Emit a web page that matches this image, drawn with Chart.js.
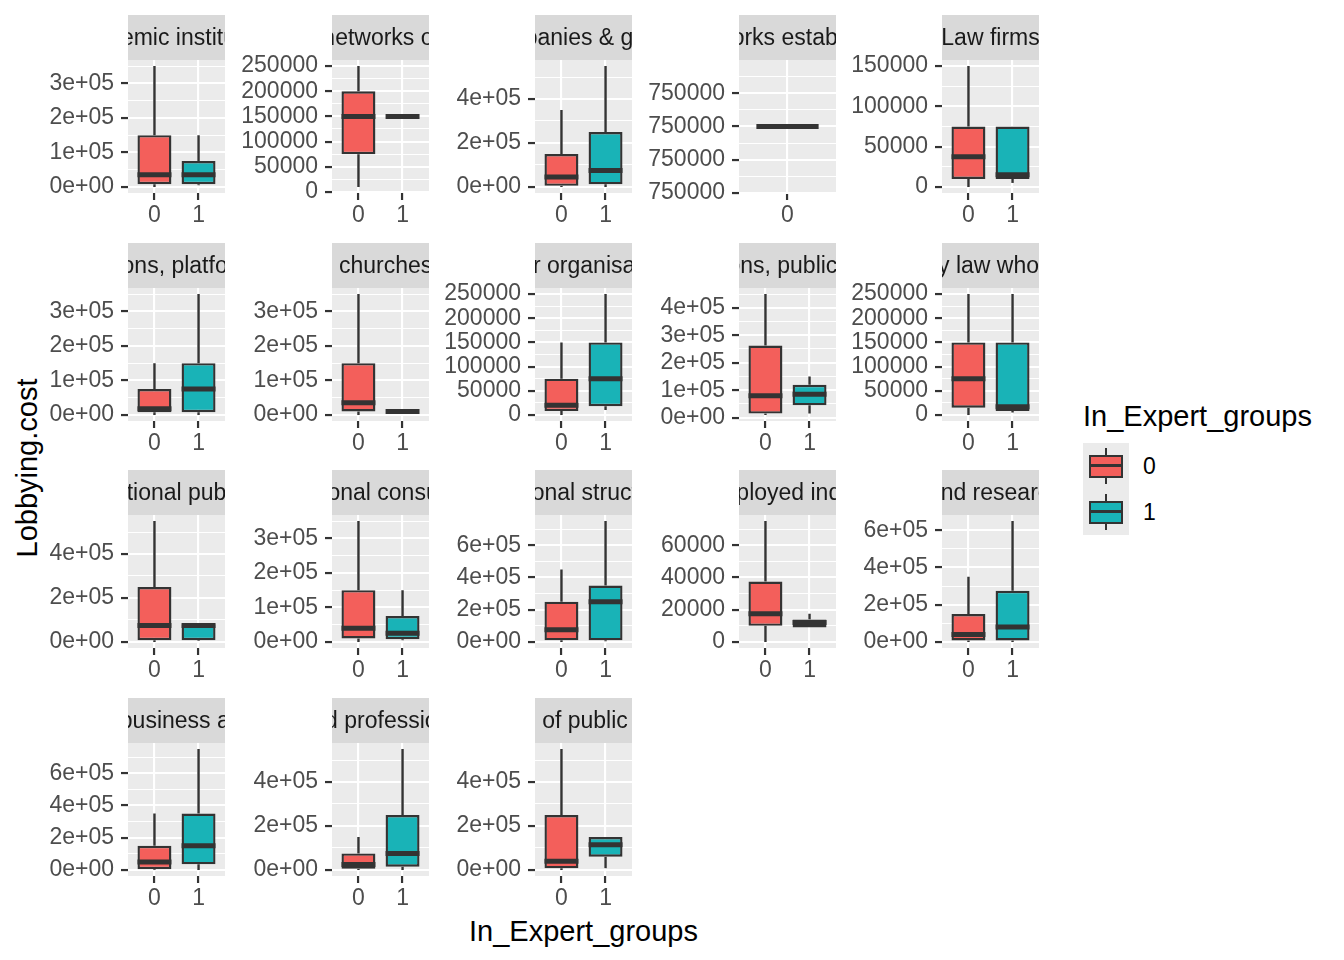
<!DOCTYPE html>
<html>
<head>
<meta charset="utf-8">
<script src="https://cdn.jsdelivr.net/npm/chart.js@4.4.1/dist/chart.umd.min.js"></script>
<style>
  body { margin: 0; background: #ffffff; }
  #wrap { position: relative; width: 1344px; height: 960px; overflow: hidden;
          font-family: "Liberation Sans", Arial, sans-serif; }
  #wrap canvas { position: absolute; }
  .title { position: absolute; font-size: 29px; line-height: 30px; color: #000; white-space: nowrap; }
  .key { position: absolute; width: 46px; height: 46px; background: #EBEBEB; }
  .key .wh { position: absolute; left: 22px; width: 2.4px; top: 4.6px; height: 36.8px; background: #333333; }
  .key .bx { position: absolute; left: 5.75px; width: 34.5px; top: 11.5px; height: 23px;
             box-sizing: border-box; border: 2.4px solid #333333; }
  .key .md { position: absolute; left: 0; right: 0; top: 7.9px; height: 2.8px; background: #333333; }
  .klab { position: absolute; font-size: 23px; line-height: 30px; color: #000; }
</style>
</head>
<body>
<div id="wrap">
  <div class="title" style="left:128px; width:911px; top:916px; text-align:center;">In_Expert_groups</div>
  <div class="title" style="left:-173px; width:400px; top:453px; text-align:center; transform:rotate(-90deg);">Lobbying.cost</div>
  <div class="title" style="left:1083px; top:401px;">In_Expert_groups</div>
  <div class="key" style="left:1083px; top:443px;"><div class="wh"></div><div class="bx" style="background:#F35F5B"><div class="md"></div></div></div>
  <div class="key" style="left:1083px; top:489px;"><div class="wh"></div><div class="bx" style="background:#19B3B7"><div class="md"></div></div></div>
  <div class="klab" style="left:1143px; top:451px;">0</div>
  <div class="klab" style="left:1143px; top:497px;">1</div>
</div>
<script>
// facet titles (full names, clipped by the strip like in ggplot)
const facetNames = [
  "Academic institutions",
  "Associations and networks of public authorities",
  "Companies & groups",
  "Entities, offices or networks established by third countries",
  "Law firms",
  "Non-governmental organisations, platforms and networks and similar",
  "Organisations representing churches and religious communities",
  "Other organisations",
  "Other organisations, public or mixed entities",
  "Other public or mixed entities, created by law whose purpose is to act in the public interest",
  "Other sub-national public authorities",
  "Professional consultancies",
  "Regional structures",
  "Self-employed individuals",
  "Think tanks and research institutions",
  "Trade and business associations",
  "Trade unions and professional associations",
  "Transnational associations and networks of public regional or other sub-national authorities"
];

const facetGroups = [
  ["0","1"], ["0","1"], ["0","1"], ["0"], ["0","1"],
  ["0","1"], ["0","1"], ["0","1"], ["0","1"], ["0","1"],
  ["0","1"], ["0","1"], ["0","1"], ["0","1"], ["0","1"],
  ["0","1"], ["0","1"], ["0","1"]
];

// Lobbying.cost box statistics per facet, one entry per group
const whiskerLow = [
  [0, 5000], [10000, 150000], [0, 0], [750000], [0, 5000],
  [0, 0], [0, 10000], [0, 10000], [10000, 15000], [0, 5000],
  [0, 5000], [0, 5000], [0, 5000], [0, 9000], [0, 0],
  [0, 0], [0, 0], [0, 8000]
];
const boxLow = [
  [8000, 8000], [75000, 150000], [5000, 12000], [750000], [10000, 10000],
  [8000, 8000], [10000, 10000], [8000, 18000], [15000, 45000], [15000, 8000],
  [8000, 8000], [10000, 8000], [10000, 10000], [10000, 9000], [8000, 8000],
  [5000, 35000], [5000, 15000], [7500, 60000]
];
const medians = [
  [35000, 35000], [150000, 150000], [45000, 75000], [750000], [37500, 15000],
  [18000, 75000], [35000, 10000], [20000, 75000], [80000, 85000], [75000, 17000],
  [75000, 75000], [40000, 25000], [75000, 250000], [17500, 12000], [40000, 80000],
  [50000, 150000], [25000, 75000], [40000, 115000]
];
const boxHigh = [
  [150000, 75000], [200000, 150000], [150000, 250000], [750000], [75000, 75000],
  [75000, 150000], [150000, 10000], [75000, 150000], [262500, 120000], [150000, 150000],
  [250000, 80000], [150000, 75000], [250000, 350000], [37500, 14000], [150000, 275000],
  [150000, 350000], [75000, 250000], [250000, 150000]
];
const whiskerHigh = [
  [350000, 150000], [250000, 150000], [350000, 550000], [750000], [150000, 75000],
  [150000, 350000], [350000, 10000], [150000, 250000], [450000, 150000], [250000, 250000],
  [550000, 80000], [350000, 150000], [450000, 750000], [75000, 17500], [350000, 650000],
  [350000, 750000], [150000, 550000], [550000, 150000]
];

// y axis breaks and their labels per facet
const yTickValues = [
  [0, 1e5, 2e5, 3e5], [0, 50000, 100000, 150000, 200000, 250000], [0, 2e5, 4e5],
  [749999.5, 749999.75, 750000, 750000.25], [0, 50000, 100000, 150000],
  [0, 1e5, 2e5, 3e5], [0, 1e5, 2e5, 3e5], [0, 50000, 100000, 150000, 200000, 250000],
  [0, 1e5, 2e5, 3e5, 4e5], [0, 50000, 100000, 150000, 200000, 250000],
  [0, 2e5, 4e5], [0, 1e5, 2e5, 3e5], [0, 2e5, 4e5, 6e5], [0, 20000, 40000, 60000],
  [0, 2e5, 4e5, 6e5], [0, 2e5, 4e5, 6e5], [0, 2e5, 4e5], [0, 2e5, 4e5]
];
const yTickLabels = [
  ["0e+00", "1e+05", "2e+05", "3e+05"], ["0", "50000", "100000", "150000", "200000", "250000"],
  ["0e+00", "2e+05", "4e+05"], ["750000", "750000", "750000", "750000"],
  ["0", "50000", "100000", "150000"],
  ["0e+00", "1e+05", "2e+05", "3e+05"], ["0e+00", "1e+05", "2e+05", "3e+05"],
  ["0", "50000", "100000", "150000", "200000", "250000"],
  ["0e+00", "1e+05", "2e+05", "3e+05", "4e+05"], ["0", "50000", "100000", "150000", "200000", "250000"],
  ["0e+00", "2e+05", "4e+05"], ["0e+00", "1e+05", "2e+05", "3e+05"],
  ["0e+00", "2e+05", "4e+05", "6e+05"], ["0", "20000", "40000", "60000"],
  ["0e+00", "2e+05", "4e+05", "6e+05"], ["0e+00", "2e+05", "4e+05", "6e+05"],
  ["0e+00", "2e+05", "4e+05"], ["0e+00", "2e+05", "4e+05"]
];

const groupColors = { "0": "#F35F5B", "1": "#19B3B7" };

// layout of the facet grid
const NCOL = 5;
const PLOT_LEFT0 = 128, COL_STEP = 203.5;
const STRIP_TOP0 = 15, ROW_STEP = 227.7;
const STRIP_H = 45, PLOT_W = 97, PLOT_H = 133;
const AXIS_W = 106, AXIS_H = 40;
const BOX_WIDTH = 0.77; // in x units
const LINE_W = 2.4;
const FONT = '"Liberation Sans", Arial, sans-serif';

const boxplotPlugin = {
  id: 'boxplot',
  beforeDraw(chart) {
    const { ctx, chartArea: a } = chart;
    ctx.save();
    ctx.fillStyle = '#EBEBEB';
    ctx.fillRect(a.left, a.top, a.right - a.left, a.bottom - a.top);
    ctx.restore();
  },
  beforeDatasetsDraw(chart, args, opts) {
    // whiskers
    const f = opts.facet;
    const { ctx } = chart;
    const y = chart.scales.y;
    const meta = chart.getDatasetMeta(0);
    ctx.save();
    ctx.strokeStyle = '#333333';
    ctx.lineWidth = LINE_W;
    meta.data.forEach((bar, i) => {
      ctx.beginPath();
      ctx.moveTo(bar.x, y.getPixelForValue(boxHigh[f][i]));
      ctx.lineTo(bar.x, y.getPixelForValue(whiskerHigh[f][i]));
      ctx.moveTo(bar.x, y.getPixelForValue(boxLow[f][i]));
      ctx.lineTo(bar.x, y.getPixelForValue(whiskerLow[f][i]));
      ctx.stroke();
    });
    ctx.restore();
  },
  afterDatasetsDraw(chart, args, opts) {
    // medians
    const f = opts.facet;
    const { ctx } = chart;
    const y = chart.scales.y;
    const meta = chart.getDatasetMeta(0);
    ctx.save();
    ctx.strokeStyle = '#333333';
    ctx.lineWidth = 5;
    meta.data.forEach((bar, i) => {
      const py = y.getPixelForValue(medians[f][i]);
      ctx.beginPath();
      ctx.moveTo(bar.x - bar.width / 2, py);
      ctx.lineTo(bar.x + bar.width / 2, py);
      ctx.stroke();
    });
    ctx.restore();
  },
  afterDraw(chart, args, opts) {
    // facet strip with the clipped title
    const { ctx, chartArea: a } = chart;
    ctx.save();
    ctx.beginPath();
    ctx.rect(a.left, 0, a.right - a.left, a.top);
    ctx.clip();
    ctx.fillStyle = '#D9D9D9';
    ctx.fillRect(a.left, 0, a.right - a.left, a.top);
    ctx.fillStyle = '#1A1A1A';
    ctx.font = '23px ' + FONT;
    ctx.textAlign = 'center';
    ctx.textBaseline = 'middle';
    ctx.fillText(facetNames[opts.facet], (a.left + a.right) / 2, a.top / 2 + 1);
    ctx.restore();
  }
};

const wrap = document.getElementById('wrap');

facetNames.forEach((name, f) => {
  const col = f % NCOL, row = Math.floor(f / NCOL);
  const canvas = document.createElement('canvas');
  canvas.width = AXIS_W + PLOT_W;
  canvas.height = STRIP_H + PLOT_H + AXIS_H;
  canvas.style.left = (PLOT_LEFT0 + col * COL_STEP - AXIS_W) + 'px';
  canvas.style.top = (STRIP_TOP0 + row * ROW_STEP) + 'px';
  wrap.appendChild(canvas);

  const groups = facetGroups[f];
  const lo = Math.min(...whiskerLow[f]), hi = Math.max(...whiskerHigh[f]);
  const pad = hi > lo ? (hi - lo) * 0.05 : 0.5;
  const majors = yTickValues[f];
  const labelOf = new Map(majors.map((v, i) => [v, yTickLabels[f][i]]));

  new Chart(canvas, {
    type: 'bar',
    data: {
      datasets: [{
        data: groups.map((g, i) => ({ x: i + 1, y: [boxLow[f][i], boxHigh[f][i]] })),
        backgroundColor: groups.map(g => groupColors[g]),
        borderColor: '#333333',
        borderWidth: LINE_W,
        borderSkipped: false,
        barPercentage: groups.length === 1 ? BOX_WIDTH / 1.2 : BOX_WIDTH,
        categoryPercentage: 1
      }]
    },
    plugins: [boxplotPlugin],
    options: {
      responsive: false,
      animation: false,
      devicePixelRatio: 1,
      layout: { padding: { top: STRIP_H, left: 0, right: 0, bottom: 0 } },
      plugins: {
        legend: { display: false },
        tooltip: { enabled: false },
        boxplot: { facet: f }
      },
      scales: {
        x: {
          type: 'linear',
          offset: false,
          min: 0.4,
          max: groups.length + 0.6,
          afterBuildTicks: scale => { scale.ticks = groups.map((g, i) => ({ value: i + 1 })); },
          afterFit: scale => { scale.height = AXIS_H; },
          border: { display: false },
          grid: { offset: false, color: '#FFFFFF', lineWidth: 2.1, tickColor: '#333333', tickLength: 7, tickWidth: 2.2 },
          ticks: {
            autoSkip: false, maxRotation: 0, padding: 2,
            color: '#4D4D4D', font: { family: FONT, size: 23 },
            callback: (v, i) => groups[i]
          }
        },
        y: {
          type: 'linear',
          bounds: 'data',
          min: lo - pad,
          max: hi + pad,
          afterBuildTicks: scale => {
            const step = majors[1] - majors[0];
            const vals = majors.map(v => ({ value: v, minor: false }));
            for (let v = majors[0] - step / 2; v <= scale.max; v += step) {
              if (v >= scale.min) vals.push({ value: v, minor: true });
            }
            vals.sort((a, b) => a.value - b.value);
            scale.ticks = vals;
          },
          afterFit: scale => { scale.width = AXIS_W; },
          border: { display: false },
          grid: {
            color: '#FFFFFF',
            lineWidth: c => (c.tick && c.tick.minor ? 1.05 : 2.1),
            tickColor: c => (c.tick && c.tick.minor ? 'rgba(0,0,0,0)' : '#333333'),
            tickLength: 7,
            tickWidth: 2.2
          },
          ticks: {
            autoSkip: false, padding: 7,
            color: '#4D4D4D', font: { family: FONT, size: 23 },
            callback: (v, i, ticks) => (ticks[i].minor ? '' : labelOf.get(v))
          }
        }
      }
    }
  });
});
</script>
</body>
</html>
